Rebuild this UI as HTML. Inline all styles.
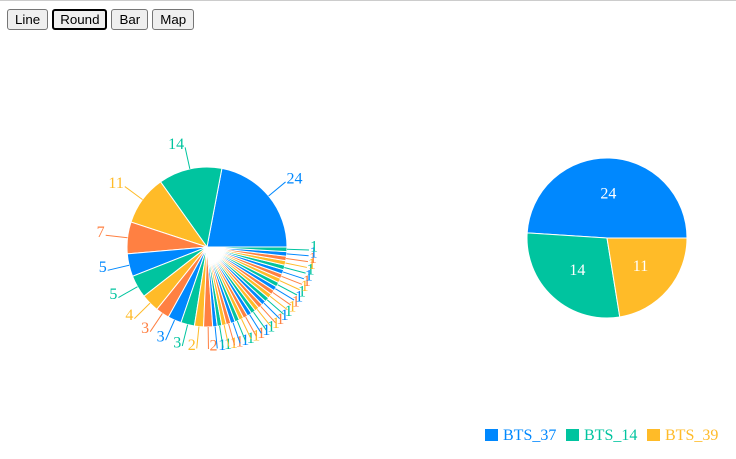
<!DOCTYPE html>
<html><head><meta charset="utf-8"><style>
body{margin:0;width:736px;height:459px;overflow:hidden;background:#fff;font-family:"Liberation Sans",sans-serif;}
.top{position:absolute;left:0;top:0;width:736px;height:1px;background:#ccc;}
.btns{position:absolute;left:7px;top:9px;display:flex;gap:4px;}
button{font:13.33px "Liberation Sans",sans-serif;height:21px;padding:0 7px;background:#efefef;border:1px solid #767676;border-radius:3px;color:#000;}
button.act{border:2px solid #000;padding:0 6px;}
svg{position:absolute;left:0;top:0;}
text{font-family:"Liberation Serif",serif;}
</style></head><body>
<div class="top"></div>
<div class="btns">
<button>Line</button>
<button class="act">Round</button>
<button>Bar</button>
<button>Map</button>
</div>
<svg id="chart" width="736" height="459"></svg>
<script>
const leftValues=[24,14,11,7,5,5,4,3,3,3,2,2,1,1,1,1,1,1,1,1,1,1,1,1,1,1,1,1,1,1,1,1,1,1,1,1,1,1];
const rightLabels=["BTS_37","BTS_14","BTS_39"];
const rightValues=[24,14,11];
const colors=["#0088FE","#00C49F","#FFBB28","#FF8042"];
const NS="http://www.w3.org/2000/svg";
const svg=document.getElementById('chart');
function mk(t,a){const e=document.createElementNS(NS,t);for(const k in a)e.setAttribute(k,a[k]);return e;}
function pt(cx,cy,r,deg){const a=deg*Math.PI/180;return [cx+r*Math.cos(a),cy-r*Math.sin(a)];}
function pie(values,cx,cy,r,outerLabels,name){
  const g=mk('g',{});
  
  
  svg.appendChild(g);
  const tot=values.reduce((a,b)=>a+b,0);let start=0;
  values.forEach((v,i)=>{
    const sweep=v/tot*360,end=start+sweep,c=colors[i%4];
    const p0=pt(cx,cy,r,start),p1=pt(cx,cy,r,end);
    const path=mk('path',{d:`M${cx},${cy}L${p0[0]},${p0[1]}A${r},${r} 0 ${sweep>180?1:0} 0 ${p1[0]},${p1[1]}Z`,fill:c,stroke:'#fff','stroke-width':1});
    
    
    g.appendChild(path);
    const mid=start+sweep/2;
    if(outerLabels){
      const a=pt(cx,cy,r,mid),b=pt(cx,cy,r+22,mid);
      const ln=mk('path',{d:`M${a[0]},${a[1]}L${b[0]},${b[1]}`,stroke:c,fill:'none','stroke-width':1});
      
      
      g.appendChild(ln);
      const t=mk('text',{x:b[0]+(b[0]>=cx?1:-1),y:b[1]-3,fill:c,'font-size':16,'text-anchor':b[0]>=cx?'start':'end','dominant-baseline':'central'});
      t.textContent=v;
      
      
      g.appendChild(t);
    }else{
      const b=pt(cx,cy,r*0.55,mid);
      const t=mk('text',{x:b[0],y:b[1],fill:'#fff','font-size':16,'text-anchor':'middle','dominant-baseline':'central'});
      t.textContent=v;
      
      
      g.appendChild(t);
    }
    start=end;
  });
}
pie(leftValues,207,247,80,true,'left-pie');
pie(rightValues,607,238,80,false,'right-pie');
const lg=mk('g',{});


svg.appendChild(lg);
let lx=485;
rightLabels.forEach((l,i)=>{
  const r=mk('rect',{x:lx,y:429,width:13,height:12,fill:colors[i]});
  
  
  lg.appendChild(r);
  const t=mk('text',{x:lx+18,y:440,fill:colors[i],'font-size':16});
  t.textContent=l;
  
  
  lg.appendChild(t);
  lx+=81;
});
</script>
</body></html>
